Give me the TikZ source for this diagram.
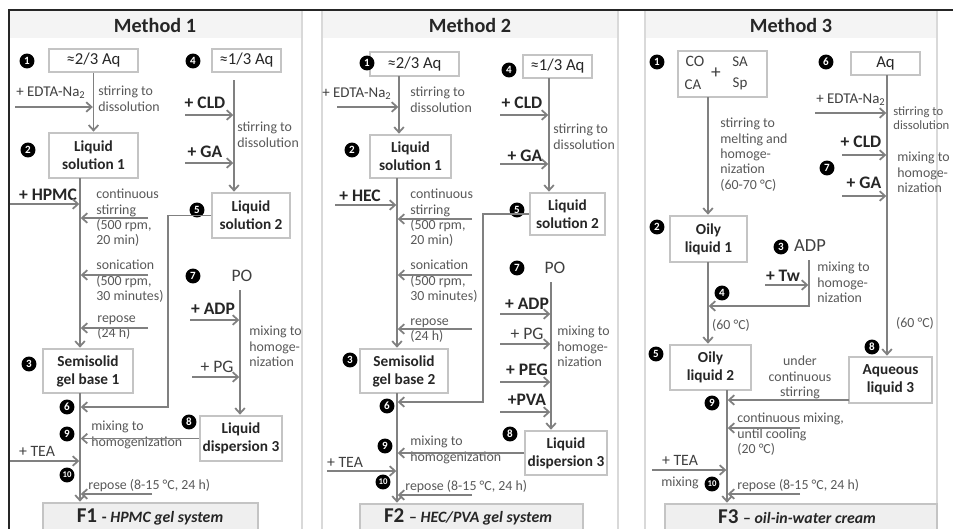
\documentclass[tikz,border=0pt]{standalone}
\usepackage{fontspec}
\setmainfont{Carlito}
\usetikzlibrary{arrows.meta}
\definecolor{boxgray}{HTML}{C4C4C4}
\definecolor{linegray}{HTML}{808080}
\definecolor{anngray}{HTML}{595959}
\definecolor{darktext}{HTML}{262626}
\definecolor{labgray}{HTML}{404040}
\definecolor{panelgray}{HTML}{D9D9D9}
\definecolor{hdrfill}{HTML}{F4F4F4}
\definecolor{ffill}{HTML}{EFEFEF}
\tikzset{
  box/.style={draw=boxgray, line width=0.75pt, fill=white, inner sep=0pt, align=center, text=darktext, font=\bfseries\fontsize{8.7}{10.2}\selectfont},
  rbox/.style={box, font=\fontsize{9.5}{11}\selectfont},
  fbox/.style={box, fill=ffill},
  conn/.style={draw=linegray, line width=1pt, shorten >=0.4pt, -{Straight Barb[length=3pt,width=5.5pt]}},
  ann/.style={text=anngray, font=\fontsize{7.9}{8.7}\selectfont, inner sep=0pt, align=left, anchor=north west},
  lab/.style={text=darktext, font=\bfseries\fontsize{10}{12}\selectfont, inner sep=0pt},
  labr/.style={text=labgray, font=\fontsize{9}{11}\selectfont, inner sep=0pt},
  labe/.style={text=labgray, font=\fontsize{8.5}{10}\selectfont, inner sep=0pt},
  numc/.style={circle, fill=black, text=white, inner sep=0pt, minimum size=8.5pt, font=\bfseries\fontsize{6.3}{6.3}\selectfont},
  numd/.style={numc, font=\bfseries\fontsize{5}{5}\selectfont},
  hdr/.style={font=\bfseries\fontsize{11.5}{13}\selectfont, text=darktext},
  ftxt/.style={text=darktext, inner sep=0pt},
  pnl/.style={draw=panelgray, line width=1pt, fill=white},
}
\newcommand{\bx}[7][box]{\node[#1,minimum width={(#5-#3)*0.02cm},minimum height={(#6-#4)*0.02cm}] (#2) at ({(#3+#5)/2},{(#4+#6)/2}) {#7};}
\begin{document}
\begin{tikzpicture}[x=0.02cm,y=-0.02cm]
\useasboundingbox (0,0) rectangle (953,528);
\fill[white] (0,0) rectangle (953,528);
\begin{scope}
\clip (0,0) rectangle (953,528);
% panels
\draw[pnl] (9,10) rectangle (302,560);
\fill[hdrfill] (10,11) rectangle (301,38);
\draw[pnl] (322,10) rectangle (618,560);
\fill[hdrfill] (323,11) rectangle (617,38);
\draw[pnl] (645,10) rectangle (937,560);
\fill[hdrfill] (646,11) rectangle (936,38);
\draw[black!85, line width=1.3pt] (9,560) -- (9,10) -- (960,10);
\node[hdr] (h1) at (155,25) {Method 1};
\node[hdr] (h2) at (470,25) {Method 2};
\node[hdr] (h3) at (791,25) {Method 3};

%%%%%%%%%%%%%%%% METHOD 1
\bx[rbox]{a1}{49}{49}{138}{72}{≈2/3 Aq}
\bx[rbox]{a4}{212}{49}{281}{72}{≈1/3 Aq}
\bx{l1}{49}{133}{138}{178}{Liquid\\solution 1}
\bx{l2}{212}{193}{290}{238}{Liquid\\solution 2}
\bx{s1}{43}{349}{133}{393}{Semisolid\\gel base 1}
\bx{d3}{200}{416}{282}{461}{Liquid\\dispersion 3}
\bx[fbox]{f1}{43}{503}{258}{560}{}
\node[ftxt] (f1t) at (150,517) {\bfseries\fontsize{12}{14}\selectfont F1 \fontsize{9}{11}\selectfont - \textit{HPMC gel system}};

\node[numc] (k1a) at (27,61) {1};
\node[numc] (k1b) at (193,61) {4};
\node[numc] (k1j) at (28,150) {2};
\node[numc] (k1c) at (197,210) {5};
\node[numc] (k1d) at (193,276) {7};
\node[numc] (k1f) at (29,364) {3};
\node[numc] (k1g) at (67,407) {6};
\node[numc] (k1e) at (189,422) {8};
\node[numc] (k1h) at (67,434) {9};
\node[numd] (k1i) at (67,475) {10};

\node[labe] (t1e) at (51,93) {+ EDTA-Na\textsubscript{2}};
\node[ann] (t1s) at (98,86) {stirring to\\dissolution};
\node[lab] (t1c) at (205,103) {+ CLD};
\node[lab] (t1g) at (205,152) {+ GA};
\node[ann] (t1s2) at (237,122) {stirring to\\dissolution};
\node[lab] (t1h) at (48,195) {+ HPMC};
\node[ann] (t1cs) at (96,189) {continuous\\stirring\\(500 rpm,\\20 min)};
\node[ann] (t1so) at (96,260) {sonication\\(500 rpm,\\30 minutes)};
\node[ann] (t1r) at (97,315) {repose\\(24 h)};
\node[labr, font=\fontsize{10}{12}\selectfont] (p1) at (242,276) {PO};
\node[lab] (t1a) at (213,309) {+ ADP};
\node[ann] (t1m) at (249,326) {mixing to\\homoge-\\nization};
\node[labr, font=\fontsize{10}{12}\selectfont] (t1p) at (217,367) {+ PG};
\node[ann] (t1mh) at (91,421) {mixing to\\homogenization};
\node[labr] (t1t) at (37,451) {+ TEA};
\node[ann, anchor=west] (t1r2) at (88,486) {repose (8-15 °C, 24 h)};

\coordinate (c1e) at (15,107);
\coordinate (v1b) at (234,80);
\coordinate (c1c) at (185,115);
\coordinate (c1g) at (185,163);
\coordinate (v1a) at (80,178);
\coordinate (c1h) at (10,204);
\coordinate (c1cs) at (148,218);
\coordinate (c1so) at (148,275);
\coordinate (c1r) at (148,328);
\coordinate (j1) at (168,407);
\coordinate (v1p) at (240,290);
\coordinate (c1a) at (190,320);
\coordinate (c1p) at (192,377);
\coordinate (c1t) at (10,461);
\coordinate (c1r2) at (152,494);
\coordinate (v1c) at (80,393);

\draw[conn] (a1.south) -- (l1.north);
\draw[conn] (c1e) -- (c1e -| a1.south);
\draw[conn] (v1b) -- (v1b |- l2.north);
\draw[conn] (c1c) -- (c1c -| v1b);
\draw[conn] (c1g) -- (c1g -| v1b);
\draw[conn] (v1a) -- (v1a |- s1.north);
\draw[conn] (c1h) -- (c1h -| v1a);
\draw[conn] (c1cs) -- (c1cs -| v1a);
\draw[conn] (c1so) -- (c1so -| v1a);
\draw[conn] (c1r) -- (c1r -| v1a);
\draw[conn] (l2.west) -- (l2.west -| j1) -- (j1) -- (j1 -| v1a);
\draw[conn] (v1p) -- (v1p |- d3.north);
\draw[conn] (c1a) -- (c1a -| v1p);
\draw[conn] (c1p) -- (c1p -| v1p);
\draw[conn] (d3.west) -- (d3.west -| v1a);
\draw[conn] (c1t) -- (c1t -| v1a);
\draw[conn] (c1r2) -- (c1r2 -| v1a);
\draw[conn] (v1c) -- (v1c |- f1.north);

%%%%%%%%%%%%%%%% METHOD 2
\bx[rbox]{b1}{370}{52}{459}{76}{≈2/3 Aq}
\bx[rbox]{b4}{523}{55}{592}{78}{≈1/3 Aq}
\bx{m2l1}{370}{135}{451}{178}{Liquid\\solution 1}
\bx{m2l2}{530}{193}{605}{235}{Liquid\\solution 2}
\bx{s2}{360}{349}{448}{393}{Semisolid\\gel base 2}
\bx{m2d3}{525}{431}{607}{475}{Liquid\\dispersion 3}
\bx[fbox]{f2}{360}{504}{583}{560}{}
\node[ftxt] (f2t) at (468,517) {\bfseries\fontsize{12}{14}\selectfont F2 \fontsize{9}{11}\selectfont -- \textit{HEC/PVA gel system}};

\node[numc] (k2a) at (367,63) {1};
\node[numc] (k2b) at (509,70) {4};
\node[numc] (k2j) at (352,150) {2};
\node[numc] (k2c) at (517,210) {5};
\node[numc] (k2d) at (517,268) {7};
\node[numc] (k2f) at (350,360) {3};
\node[numc] (k2g) at (387,406) {6};
\node[numc] (k2e) at (510,434) {8};
\node[numc] (k2h) at (385,446) {9};
\node[numd] (k2i) at (383,482) {10};

\node[labe] (t2e) at (357,94) {+ EDTA-Na\textsubscript{2}};
\node[ann] (t2s) at (410,87) {stirring to\\dissolution};
\node[lab] (t2c) at (522,103) {+ CLD};
\node[lab] (t2g) at (525,156) {+ GA};
\node[ann] (t2s2) at (553,124) {stirring to\\dissolution};
\node[lab] (t2h) at (360,196) {+ HEC};
\node[ann] (t2cs) at (410,189) {continuous\\stirring\\(500 rpm,\\20 min)};
\node[ann] (t2so) at (410,260) {sonication\\(500 rpm,\\30 minutes)};
\node[ann] (t2r) at (410,318) {repose\\(24 h)};
\node[labr, font=\fontsize{10}{12}\selectfont] (p2) at (555,268) {PO};
\node[lab] (t2a) at (527,304) {+ ADP};
\node[labr, font=\fontsize{10}{12}\selectfont] (t2p) at (527,334) {+ PG};
\node[ann] (t2m) at (557,326) {mixing to\\homoge-\\nization};
\node[lab] (t2pe) at (527,370) {+ PEG};
\node[lab] (t2pv) at (527,400) {+PVA};
\node[ann] (t2mh) at (410,436) {mixing to\\homogenization};
\node[labr] (t2t) at (345,462) {+ TEA};
\node[ann, anchor=west] (t2r2) at (405,487) {repose (8-15 °C, 24 h)};

\coordinate (v2a) at (399,76);
\coordinate (c2e) at (337,107);
\coordinate (v2b) at (549,78);
\coordinate (c2c) at (500,115);
\coordinate (c2g) at (500,164);
\coordinate (v2c) at (397,178);
\coordinate (c2h) at (335,205);
\coordinate (c2cs) at (472,219);
\coordinate (c2so) at (472,275);
\coordinate (c2r) at (472,329);
\coordinate (j2) at (483,402);
\coordinate (v2d) at (551,282);
\coordinate (c2a) at (500,314);
\coordinate (c2p) at (500,344);
\coordinate (c2pe) at (500,382);
\coordinate (c2pv) at (500,412);
\coordinate (c2t) at (327,471);
\coordinate (c2r2) at (472,495);
\coordinate (v2e) at (397,393);

\draw[conn] (v2a) -- (v2a |- m2l1.north);
\draw[conn] (c2e) -- (c2e -| v2a);
\draw[conn] (v2b) -- (v2b |- m2l2.north);
\draw[conn] (c2c) -- (c2c -| v2b);
\draw[conn] (c2g) -- (c2g -| v2b);
\draw[conn] (v2c) -- (v2c |- s2.north);
\draw[conn] (c2h) -- (c2h -| v2c);
\draw[conn] (c2cs) -- (c2cs -| v2c);
\draw[conn] (c2so) -- (c2so -| v2c);
\draw[conn] (c2r) -- (c2r -| v2c);
\draw[conn] (m2l2.west) -- (m2l2.west -| j2) -- (j2) -- (j2 -| v2c);
\draw[conn] (v2d) -- (v2d |- m2d3.north);
\draw[conn] (c2a) -- (c2a -| v2d);
\draw[conn] (c2p) -- (c2p -| v2d);
\draw[conn] (c2pe) -- (c2pe -| v2d);
\draw[conn] (c2pv) -- (c2pv -| v2d);
\draw[conn] (m2d3.west) -- (m2d3.west -| v2c);
\draw[conn] (c2t) -- (c2t -| v2c);
\draw[conn] (c2r2) -- (c2r2 -| v2c);
\draw[conn] (v2e) -- (v2e |- f2.north);

%%%%%%%%%%%%%%%% METHOD 3
\bx[rbox]{c1}{678}{51}{767}{97}{}
\node[labr, font=\fontsize{9}{11}\selectfont] (co) at (695,61) {CO};
\node[labr, font=\fontsize{8.5}{10}\selectfont] (sa) at (740,62) {SA};
\node[labr, font=\fontsize{11}{12}\selectfont] (pl) at (716,73) {+};
\node[labr, font=\fontsize{8.5}{10}\selectfont] (ca) at (693,85) {CA};
\node[labr, font=\fontsize{8.5}{10}\selectfont] (sp) at (740,84) {Sp};
\bx[rbox]{c6}{851}{52}{920}{75}{Aq}
\bx{o1}{670}{216}{747}{262}{Oily\\liquid 1}
\bx{o2}{670}{345}{751}{390}{Oily\\liquid 2}
\bx{q3}{849}{357}{932}{403}{Aqueous\\liquid 3}
\bx[fbox]{f3}{665}{504}{937}{560}{}
\node[ftxt] (f3t) at (797,517) {\bfseries\fontsize{12}{14}\selectfont F3 \fontsize{9}{11}\selectfont -- \textit{oil-in-water cream}};

\node[numc] (k3a) at (657,62) {1};
\node[numc] (k3b) at (826,62) {6};
\node[numc] (k3g) at (827,168) {7};
\node[numc] (k3j) at (657,227) {2};
\node[numc] (k3c) at (781,247) {3};
\node[numc] (k3d) at (722,293) {4};
\node[numc] (k3f) at (656,354) {5};
\node[numc] (k3e) at (872,347) {8};
\node[numc] (k3h) at (712,403) {9};
\node[numd] (k3i) at (712,484) {10};

\node[ann] (t3s) at (720,118) {stirring to\\melting and\\homoge-\\nization\\(60-70 °C)};
\node[labe] (t3e) at (851,100) {+ EDTA-Na\textsubscript{2}};
\node[ann, font=\fontsize{7.2}{8.3}\selectfont] (t3s2) at (893,106) {stirring to\\dissolution};
\node[lab] (t3c) at (861,142) {+ CLD};
\node[ann] (t3m) at (897,152) {mixing to\\homoge-\\nization};
\node[lab] (t3g) at (864,183) {+ GA};
\node[labr, font=\fontsize{10.5}{12}\selectfont] (adp) at (810,246) {ADP};
\node[lab] (t3w) at (783,276) {+ Tw};
\node[ann] (t3m2) at (817,262) {mixing to\\homoge-\\nization};
\node[ann, anchor=center] (t3t1) at (731,325) {(60 °C)};
\node[ann, anchor=center] (t3t2) at (915,323) {(60 °C)};
\node[ann, anchor=north, align=center] (t3u) at (800,356) {under\\continuous\\stirring};
\node[ann] (t3cm) at (737,413) {continuous mixing,\\until cooling\\(20 °C)};
\node[labr] (t3t) at (680,460) {+ TEA};
\node[ann, anchor=center] (t3mx) at (680,483) {mixing};
\node[ann, anchor=west] (t3r2) at (737,486) {repose (8-15 °C, 24 h)};

\coordinate (v3a) at (708,97);
\coordinate (v3b) at (887,75);
\coordinate (c3e) at (815,113);
\coordinate (c3c) at (842,155);
\coordinate (c3g) at (842,196);
\coordinate (v3c) at (809,260);
\coordinate (j3) at (809,306);
\coordinate (c3w) at (765,285);
\coordinate (v3d) at (708,262);
\coordinate (v3e) at (727,390);
\coordinate (c3q) at (849,400);
\coordinate (c3cm) at (800,428);
\coordinate (c3t) at (652,470);
\coordinate (c3r2) at (800,494);

\draw[conn] (v3a) -- (v3a |- o1.north);
\draw[conn] (v3b) -- (v3b |- q3.north);
\draw[conn] (c3e) -- (c3e -| v3b);
\draw[conn] (c3c) -- (c3c -| v3b);
\draw[conn] (c3g) -- (c3g -| v3b);
\draw[conn] (v3c) -- (j3) -- (j3 -| v3a);
\draw[conn] (c3w) -- (c3w -| v3c);
\draw[conn] (v3d) -- (v3d |- o2.north);
\draw[conn] (c3q) -- (c3q -| v3e);
\draw[conn] (c3cm) -- (c3cm -| v3e);
\draw[conn] (c3t) -- (c3t -| v3e);
\draw[conn] (c3r2) -- (c3r2 -| v3e);
\draw[conn] (v3e) -- (v3e |- f3.north);
\end{scope}
\end{tikzpicture}
\end{document}
